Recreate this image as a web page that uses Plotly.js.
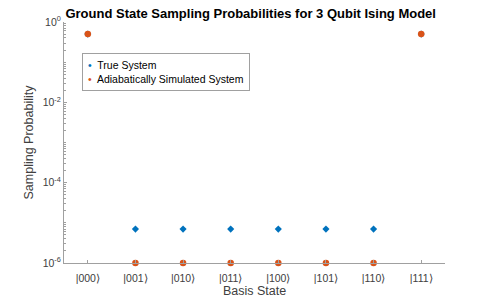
<!DOCTYPE html>
<html><head><meta charset="utf-8">
<script src="https://cdn.plot.ly/plotly-3.0.1.min.js"></script>
<style>html,body{margin:0;padding:0;background:#fff;}#c{width:491px;height:299px;}</style>
</head><body><div id="c"></div>
<script>
const states = ["|000\u27E9","|001\u27E9","|010\u27E9","|011\u27E9","|100\u27E9","|101\u27E9","|110\u27E9","|111\u27E9"];
const xIndex = [1,2,3,4,5,6,7,8];
const trueProb = [0.5, 7e-6, 7e-6, 7e-6, 7e-6, 7e-6, 7e-6, 0.5];
const simProb = [0.5, 1e-6, 1e-6, 1e-6, 1e-6, 1e-6, 1e-6, 0.5];
const seriesNames = ["True System", "Adiabatically Simulated System"];
const yTickVals = [1e-6, 1e-4, 1e-2, 1];
const yTickText = ["10<sup>-6</sup>","10<sup>-4</sup>","10<sup>-2</sup>","10<sup>0</sup>"];
const blue = "#0072BD", orange = "#D95319";
const font = "'Liberation Sans', Arial, sans-serif";
const axisGray = "#a0a0a0", textGray = "#404040";
const data = [
  {x: xIndex, y: trueProb, type: "scatter", mode: "markers", name: seriesNames[0], showlegend: false, cliponaxis: false,
   marker: {symbol: "diamond", size: 5.5, color: blue}},
  {x: xIndex, y: simProb, type: "scatter", mode: "markers", name: seriesNames[1], showlegend: false, cliponaxis: false,
   marker: {symbol: "circle", size: 6.5, color: orange}}
];
const legendText = "<span style='color:" + blue + "'>\u2022</span>  " + seriesNames[0] +
  "<br><span style='color:" + orange + "'>\u2022</span>  " + seriesNames[1];
const layout = {
  width: 491, height: 299,
  margin: {l: 64, r: 46, t: 22, b: 36},
  paper_bgcolor: "#fff", plot_bgcolor: "#fff",
  font: {family: font, size: 10.5, color: textGray},
  showlegend: false,
  title: {text: "<b>Ground State Sampling Probabilities for 3 Qubit Ising Model</b>",
          font: {family: font, size: 13, color: "#000"}, xref: "paper", x: 0.49, xanchor: "center",
          yref: "container", y: 0.955, yanchor: "middle"},
  xaxis: {range: [0.5, 8.5], tickvals: xIndex, ticktext: states, ticks: "inside", ticklen: 3,
          tickcolor: axisGray, showline: true, linecolor: axisGray, linewidth: 1,
          showgrid: false, zeroline: false, tickfont: {size: 10.5, color: textGray},
          ticklabelstandoff: 5,
          title: {text: "Basis State", font: {size: 12.5, color: textGray}, standoff: 3}},
  yaxis: {type: "log", range: [-6, 0], tickvals: yTickVals, ticktext: yTickText, ticks: "inside", ticklen: 3,
          tickcolor: axisGray, showline: true, linecolor: axisGray, linewidth: 1,
          showgrid: false, zeroline: false, tickfont: {size: 10.5, color: textGray},
          minor: {ticks: "inside", ticklen: 2, tickcolor: axisGray, dtick: "D1", showgrid: false},
          title: {text: "Sampling Probability", font: {size: 12.5, color: textGray}, standoff: 6}},
  annotations: [{
    text: legendText, xref: "paper", yref: "paper", x: 0.046, y: 0.871,
    xanchor: "left", yanchor: "top", align: "left", showarrow: false,
    font: {family: font, size: 10.5, color: "#000"},
    bgcolor: "#fff", bordercolor: axisGray, borderwidth: 1, borderpad: 5
  }]
};
Plotly.newPlot("c", data, layout, {displayModeBar: false, staticPlot: true});
</script></body></html>
